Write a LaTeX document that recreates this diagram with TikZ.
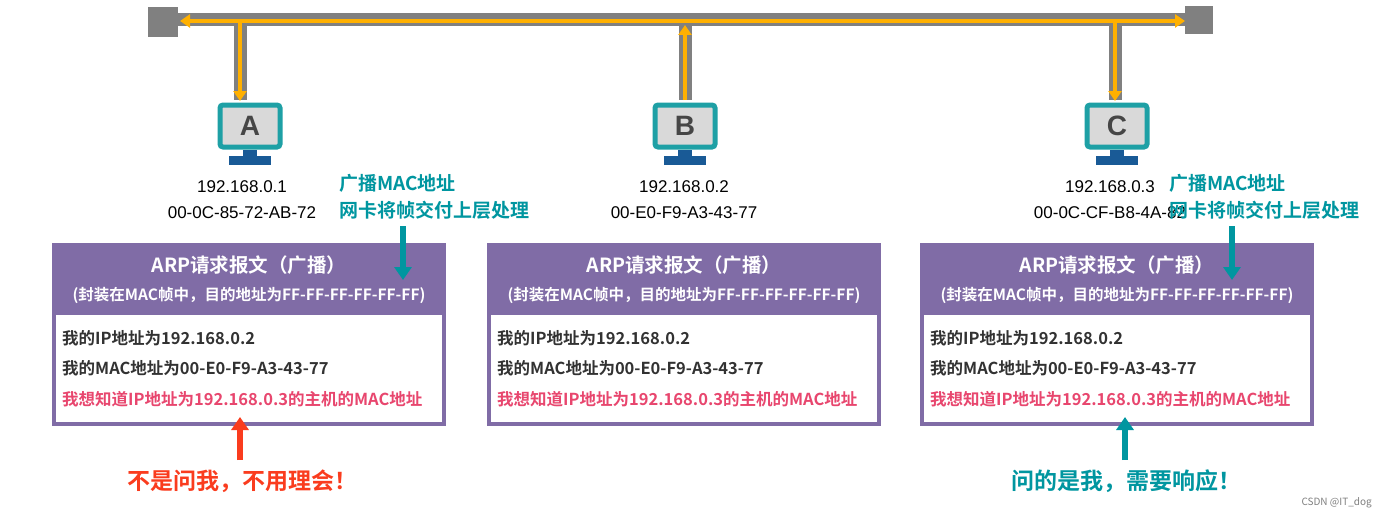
\documentclass[tikz,border=0pt]{standalone}
\usepackage{fontspec}
\setmainfont{Liberation Sans}
\newfontfamily\cjk{Noto Sans CJK SC}
\newfontfamily\cjkb{Noto Sans CJK SC Bold}
\usetikzlibrary{arrows.meta}
\definecolor{bus}{RGB}{128,128,128}
\definecolor{org}{RGB}{255,176,0}
\definecolor{teal}{RGB}{0,150,160}
\definecolor{mon}{RGB}{30,160,165}
\definecolor{stand}{RGB}{25,90,150}
\definecolor{purp}{RGB}{128,108,166}
\definecolor{pink}{RGB}{232,70,110}
\definecolor{redo}{RGB}{250,60,30}
\definecolor{txt}{RGB}{50,50,50}
\tikzset{
 orgarrow/.style={org,line width=4pt,-{Triangle[length=10pt,width=13pt]}},
 tealarrow/.style={teal,line width=5.5pt,-{Triangle[length=13pt,width=17pt]}},
 redarrow/.style={redo,line width=5.5pt,-{Triangle[length=13pt,width=17pt]}},
 iptxt/.style={font=\fontsize{17}{20}\selectfont,text=black,inner sep=0},
 tealtxt/.style={font=\cjkb\fontsize{19}{22}\selectfont,text=teal,inner sep=0,anchor=west},
 title/.style={font=\cjkb\fontsize{19.5}{22}\selectfont,text=white,inner sep=0},
 sub/.style={font=\cjkb\fontsize{15.5}{17}\selectfont,text=white,inner sep=0},
 body/.style={font=\cjkb\fontsize{16.5}{18}\selectfont,text=txt,inner sep=0,anchor=west},
 bodyred/.style={font=\cjkb\fontsize{16.5}{18}\selectfont,text=pink,inner sep=0,anchor=west},
 big/.style={font=\cjkb\fontsize{23}{26}\selectfont,inner sep=0},
}
\begin{document}
\begin{tikzpicture}[x=1pt,y=-1pt]
\useasboundingbox[fill=white] (0,0) rectangle (1386,519);
% bus
\draw[bus,line width=13pt] (163,20) -- (1200,20);
\node[fill=bus,minimum size=30pt,inner sep=0] (L) at (163,22) {};
\node[fill=bus,minimum size=28pt,inner sep=0] (R) at (1199,20) {};
\draw[bus,line width=13pt] (240,20) -- (240,100);
\draw[bus,line width=13pt] (685,20) -- (685,100);
\draw[bus,line width=13pt] (1115,20) -- (1115,100);
\coordinate (lb) at (180,21); \coordinate (rb) at (1185,21);
\draw[orgarrow] (685,21) -- (lb);
\draw[orgarrow] (685,21) -- (rb);
\draw[orgarrow] (685,100) -- (685,25);
\draw[org,line width=4pt] (240,21) -- (240,60);
\draw[orgarrow] (240,60) -- (240,101);
\draw[org,line width=4pt] (1115,21) -- (1115,60);
\draw[orgarrow] (1115,60) -- (1115,101);
% monitors
\foreach \n/\cx/\l in {A/250/A,B/685/B,C/1117/C}{
 \node[draw=mon,line width=5pt,fill=gray!30,rounded corners=3pt,minimum width=60pt,minimum height=42pt,inner sep=0,font=\bfseries\fontsize{28}{28}\selectfont,text=gray!55!black] (m\n) at (\cx,126) {\l};
 \fill[stand] (\cx-7,150) rectangle (\cx+7,156);
 \fill[stand] (\cx-21,156) rectangle (\cx+21,165);
}
% addresses
\node[iptxt] (ipA) at (242,187) {192.168.0.1};
\node[iptxt] (macA) at (242,213) {00-0C-85-72-AB-72};
\node[iptxt] (ipB) at (684,187) {192.168.0.2};
\node[iptxt] (macB) at (684,213) {00-E0-F9-A3-43-77};
\node[iptxt] (ipC) at (1110,187) {192.168.0.3};
\node[iptxt] (macC) at (1110,213) {00-0C-CF-B8-4A-82};
% boxes
\foreach \n/\x in {A/52,B/487,C/920}{
 \fill[purp] (\x,243) rectangle (\x+394,426);
 \fill[white] (\x+4,315) rectangle (\x+390,422);
 \node[title] (h\n) at (\x+197,265) {ARP请求报文（广播）};
 \node[sub] (s\n) at (\x+197,295) {(封装在MAC帧中，目的地址为FF-FF-FF-FF-FF-FF)};
 \node[body] (b1\n) at (\x+10,338) {我的IP地址为192.168.0.2};
 \node[body] (b2\n) at (\x+10,368) {我的MAC地址为00-E0-F9-A3-43-77};
 \node[bodyred] (b3\n) at (\x+10,399) {我想知道IP地址为192.168.0.3的主机的MAC地址};
}
% teal labels
\foreach \n/\x/\ax in {A/339/403,C/1169/1232}{
 \node[tealtxt] (t1\n) at (\x,183) {广播MAC地址};
 \node[tealtxt] (t2\n) at (\x,210) {网卡将帧交付上层处理};
 \coordinate (ts\n) at (\ax,226);
 \coordinate (te\n) at (\ax,280);
 \draw[tealarrow] (ts\n) -- (te\n);
}
% bottom
\node[big,text=redo] (no) at (242,481) {不是问我，不用理会！};
\node[big,text=teal] (yes) at (1126,481) {问的是我，需要响应！};
\coordinate (ra) at (240,417); \coordinate (ta) at (1125,417);
\draw[redarrow] (240,460) -- (ra);
\draw[tealarrow] (1125,460) -- (ta);
\node[font=\cjk\fontsize{10}{12}\selectfont,text=gray,anchor=east,inner sep=0] (wm) at (1372,503) {CSDN @IT\_dog};
\end{tikzpicture}
\end{document}
